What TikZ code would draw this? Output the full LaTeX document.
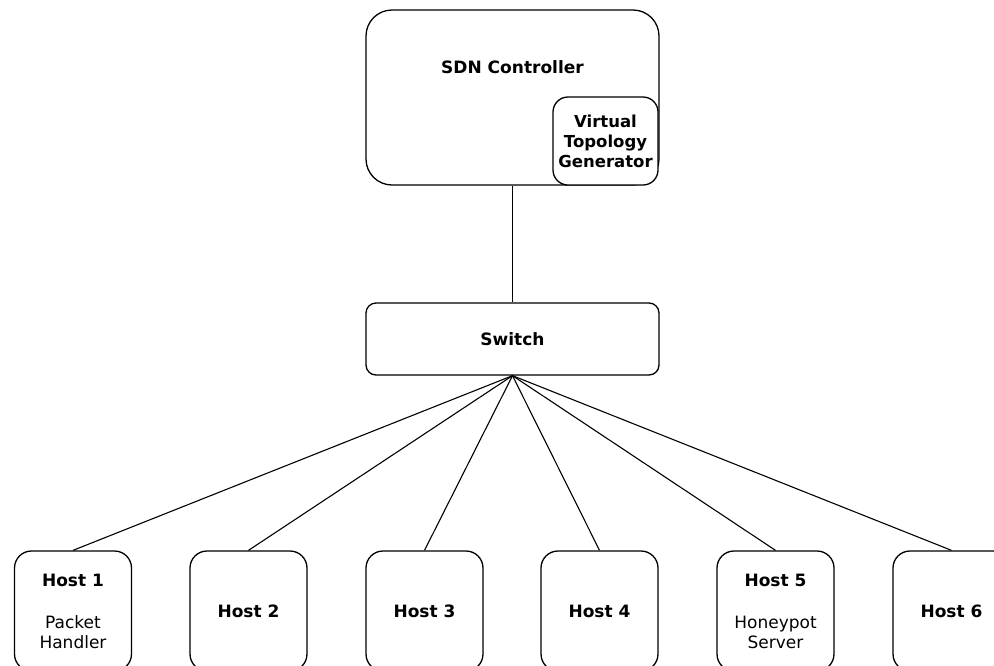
\documentclass[tikz,border=0pt]{standalone}
\usepackage{fontspec}
\setmainfont{DejaVu Sans}
\begin{document}
\begin{tikzpicture}[x=1pt,y=-1pt,
  every node/.style={font=\fontsize{17}{20}\selectfont, inner sep=0pt},
  box/.style={draw, line width=1.3pt, rectangle, align=center, fill=white},
  host/.style={box, minimum width=117pt, minimum height=120pt, rounded corners=17pt},
  link/.style={line width=1.1pt}]
\useasboundingbox (0,0) rectangle (994,665);
\node[box, minimum width=293pt, minimum height=175pt, rounded corners=26pt] (sdn) at (512.5,97.5) {};
\node[font=\fontsize{17}{20}\selectfont\bfseries] (sdnlabel) at (512.5,67) {SDN Controller};
\node[box, minimum width=105pt, minimum height=88pt, rounded corners=15pt, font=\fontsize{16.5}{20}\selectfont\bfseries] (vtg) at (605.5,141) {Virtual\\Topology\\Generator};
\node[box, minimum width=293pt, minimum height=72pt, rounded corners=10pt, font=\fontsize{17}{20}\selectfont\bfseries] (switch) at (512.5,339) {Switch};
\draw[link] (sdn.south) -- (switch.north);
\node[host] (h1) at (73,611) {\textbf{Host 1}\\[22pt]Packet\\Handler};
\node[host] (h2) at (248.5,611) {\textbf{Host 2}};
\node[host] (h3) at (424.5,611) {\textbf{Host 3}};
\node[host] (h4) at (599.5,611) {\textbf{Host 4}};
\node[host] (h5) at (775.5,611) {\textbf{Host 5}\\[22pt]Honeypot\\Server};
\node[host] (h6) at (951.5,611) {\textbf{Host 6}};
\foreach \h in {h1,h2,h3,h4,h5,h6} \draw[link] (switch.south) -- (\h.north);
\end{tikzpicture}
\end{document}
